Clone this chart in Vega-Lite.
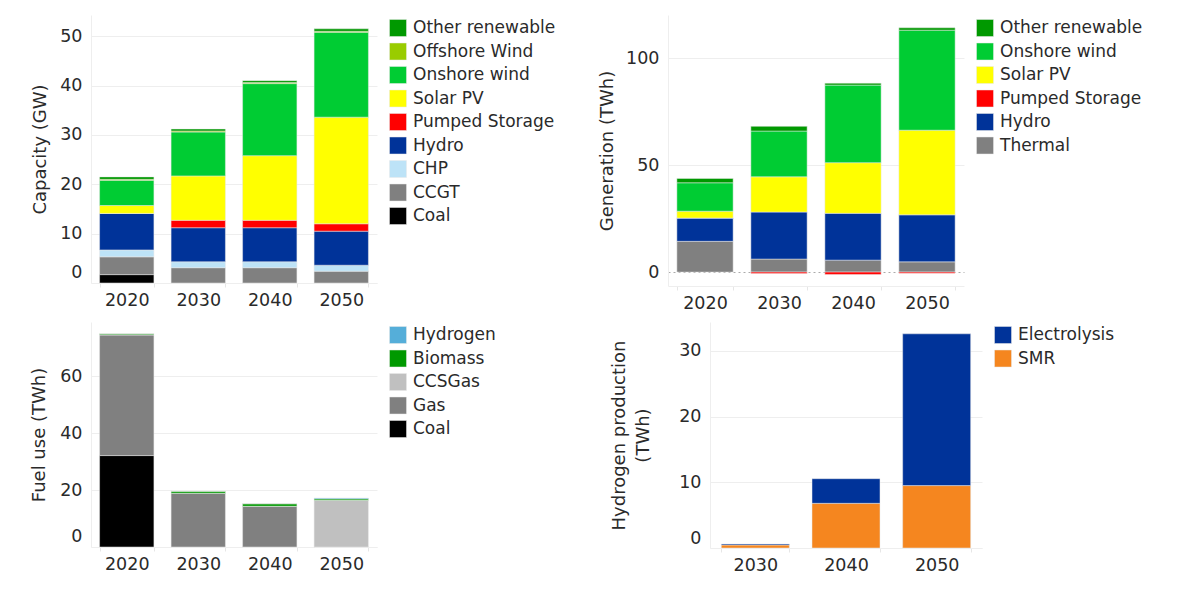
{
  "$schema": "https://vega.github.io/schema/vega-lite/v6.json",
  "padding": {"left": 30, "top": 15, "right": 0, "bottom": 0},
  "background": "white",
  "config": {
    "font": "DejaVu Sans",
    "view": {"stroke": null},
    "axis": {
      "labelFont": "DejaVu Sans", "labelFontSize": 17.5, "labelColor": "#2a2a2a",
      "titleFont": "DejaVu Sans", "titleFontSize": 18, "titleFontWeight": "normal", "titleColor": "#2a2a2a",
      "gridColor": "#eeeeee", "domainColor": "#eeeeee", "tickColor": "#e6e6e6"
    },
    "axisX": {"labelAngle": 0, "tickBand": "extent", "ticks": true, "tickSize": 4, "labelPadding": 4, "grid": false, "title": null},
    "axisY": {"ticks": false, "domain": true, "labelPadding": 9},
    "legend": {
      "title": null, "labelFont": "DejaVu Sans", "labelFontSize": 17, "labelColor": "#2a2a2a",
      "symbolType": "square", "symbolSize": 289, "symbolStrokeWidth": 0, "symbolOpacity": 1,
      "rowPadding": 3.5, "labelOffset": 6, "padding": 4, "offset": 8, "labelLimit": 300
    },
    "bar": {"stroke": "#e8e8e8", "strokeWidth": 0.5}
  },
  "datasets": {
    "capacity": [
      {"year": "2020", "tech": "Coal", "value": 1.7, "k": 0},
      {"year": "2020", "tech": "CCGT", "value": 3.6, "k": 1},
      {"year": "2020", "tech": "CHP", "value": 1.4, "k": 2},
      {"year": "2020", "tech": "Hydro", "value": 7.4, "k": 3},
      {"year": "2020", "tech": "Pumped Storage", "value": 0, "k": 4},
      {"year": "2020", "tech": "Solar PV", "value": 1.6, "k": 5},
      {"year": "2020", "tech": "Onshore wind", "value": 5.1, "k": 6},
      {"year": "2020", "tech": "Offshore Wind", "value": 0.2, "k": 7},
      {"year": "2020", "tech": "Other renewable", "value": 0.5, "k": 8},
      {"year": "2030", "tech": "Coal", "value": 0, "k": 0},
      {"year": "2030", "tech": "CCGT", "value": 3.1, "k": 1},
      {"year": "2030", "tech": "CHP", "value": 1.2, "k": 2},
      {"year": "2030", "tech": "Hydro", "value": 6.9, "k": 3},
      {"year": "2030", "tech": "Pumped Storage", "value": 1.5, "k": 4},
      {"year": "2030", "tech": "Solar PV", "value": 9.0, "k": 5},
      {"year": "2030", "tech": "Onshore wind", "value": 8.9, "k": 6},
      {"year": "2030", "tech": "Offshore Wind", "value": 0.2, "k": 7},
      {"year": "2030", "tech": "Other renewable", "value": 0.4, "k": 8},
      {"year": "2040", "tech": "Coal", "value": 0, "k": 0},
      {"year": "2040", "tech": "CCGT", "value": 3.1, "k": 1},
      {"year": "2040", "tech": "CHP", "value": 1.2, "k": 2},
      {"year": "2040", "tech": "Hydro", "value": 6.9, "k": 3},
      {"year": "2040", "tech": "Pumped Storage", "value": 1.5, "k": 4},
      {"year": "2040", "tech": "Solar PV", "value": 13.1, "k": 5},
      {"year": "2040", "tech": "Onshore wind", "value": 14.6, "k": 6},
      {"year": "2040", "tech": "Offshore Wind", "value": 0.2, "k": 7},
      {"year": "2040", "tech": "Other renewable", "value": 0.4, "k": 8},
      {"year": "2050", "tech": "Coal", "value": 0, "k": 0},
      {"year": "2050", "tech": "CCGT", "value": 2.4, "k": 1},
      {"year": "2050", "tech": "CHP", "value": 1.2, "k": 2},
      {"year": "2050", "tech": "Hydro", "value": 6.9, "k": 3},
      {"year": "2050", "tech": "Pumped Storage", "value": 1.5, "k": 4},
      {"year": "2050", "tech": "Solar PV", "value": 21.6, "k": 5},
      {"year": "2050", "tech": "Onshore wind", "value": 17.2, "k": 6},
      {"year": "2050", "tech": "Offshore Wind", "value": 0.2, "k": 7},
      {"year": "2050", "tech": "Other renewable", "value": 0.5, "k": 8}
    ],
    "generation": [
      {"year": "2020", "source": "Thermal", "twh": 14.4, "k": 0},
      {"year": "2020", "source": "Hydro", "twh": 10.9, "k": 1},
      {"year": "2020", "source": "Pumped Storage", "twh": 0, "k": 2},
      {"year": "2020", "source": "Solar PV", "twh": 3.2, "k": 3},
      {"year": "2020", "source": "Onshore wind", "twh": 13.3, "k": 4},
      {"year": "2020", "source": "Other renewable", "twh": 2.0, "k": 5},
      {"year": "2030", "source": "Thermal", "twh": 6.1, "k": 0},
      {"year": "2030", "source": "Hydro", "twh": 22.0, "k": 1},
      {"year": "2030", "source": "Pumped Storage", "twh": -0.6, "k": 2},
      {"year": "2030", "source": "Solar PV", "twh": 16.5, "k": 3},
      {"year": "2030", "source": "Onshore wind", "twh": 21.4, "k": 4},
      {"year": "2030", "source": "Other renewable", "twh": 2.2, "k": 5},
      {"year": "2040", "source": "Thermal", "twh": 5.6, "k": 0},
      {"year": "2040", "source": "Hydro", "twh": 21.9, "k": 1},
      {"year": "2040", "source": "Pumped Storage", "twh": -1.1, "k": 2},
      {"year": "2040", "source": "Solar PV", "twh": 23.7, "k": 3},
      {"year": "2040", "source": "Onshore wind", "twh": 36.3, "k": 4},
      {"year": "2040", "source": "Other renewable", "twh": 0.9, "k": 5},
      {"year": "2050", "source": "Thermal", "twh": 4.8, "k": 0},
      {"year": "2050", "source": "Hydro", "twh": 22.0, "k": 1},
      {"year": "2050", "source": "Pumped Storage", "twh": -0.5, "k": 2},
      {"year": "2050", "source": "Solar PV", "twh": 39.6, "k": 3},
      {"year": "2050", "source": "Onshore wind", "twh": 46.8, "k": 4},
      {"year": "2050", "source": "Other renewable", "twh": 1.1, "k": 5}
    ],
    "fuel": [
      {"year": "2020", "fuel": "Coal", "use": 32.1, "k": 0},
      {"year": "2020", "fuel": "Gas", "use": 42.4, "k": 1},
      {"year": "2020", "fuel": "CCSGas", "use": 0, "k": 2},
      {"year": "2020", "fuel": "Biomass", "use": 0.4, "k": 3},
      {"year": "2020", "fuel": "Hydrogen", "use": 0, "k": 4},
      {"year": "2030", "fuel": "Coal", "use": 0, "k": 0},
      {"year": "2030", "fuel": "Gas", "use": 18.9, "k": 1},
      {"year": "2030", "fuel": "CCSGas", "use": 0, "k": 2},
      {"year": "2030", "fuel": "Biomass", "use": 0.7, "k": 3},
      {"year": "2030", "fuel": "Hydrogen", "use": 0, "k": 4},
      {"year": "2040", "fuel": "Coal", "use": 0, "k": 0},
      {"year": "2040", "fuel": "Gas", "use": 14.3, "k": 1},
      {"year": "2040", "fuel": "CCSGas", "use": 0, "k": 2},
      {"year": "2040", "fuel": "Biomass", "use": 0.9, "k": 3},
      {"year": "2040", "fuel": "Hydrogen", "use": 0, "k": 4},
      {"year": "2050", "fuel": "Coal", "use": 0, "k": 0},
      {"year": "2050", "fuel": "Gas", "use": 0, "k": 1},
      {"year": "2050", "fuel": "CCSGas", "use": 16.4, "k": 2},
      {"year": "2050", "fuel": "Biomass", "use": 0.5, "k": 3},
      {"year": "2050", "fuel": "Hydrogen", "use": 0.3, "k": 4}
    ],
    "hydrogen": [
      {"year": "2030", "route": "SMR", "prod": 0.46, "k": 0},
      {"year": "2030", "route": "Electrolysis", "prod": 0.15, "k": 1},
      {"year": "2040", "route": "SMR", "prod": 6.8, "k": 0},
      {"year": "2040", "route": "Electrolysis", "prod": 3.75, "k": 1},
      {"year": "2050", "route": "SMR", "prod": 9.5, "k": 0},
      {"year": "2050", "route": "Electrolysis", "prod": 23.1, "k": 1}
    ]
  },
  "resolve": {"scale": {"color": "independent"}, "legend": {"color": "independent"}},
  "spacing": 10,
  "vconcat": [
    {
      "spacing": 38,
      "resolve": {"scale": {"color": "independent", "x": "independent", "y": "independent"}, "legend": {"color": "independent"}},
      "hconcat": [
        {
          "width": 286, "height": 268,
          "data": {"name": "capacity"},
          "mark": {"type": "bar"},
          "encoding": {
            "x": {"field": "year", "type": "nominal", "scale": {"paddingInner": 0.24, "paddingOuter": 0.12}},
            "y": {"field": "value", "type": "quantitative", "stack": "zero",
                  "scale": {"domain": [0, 54.3], "nice": false, "zero": false},
                  "axis": {"title": "Capacity (GW)", "values": [0, 10, 20, 30, 40, 50], "titlePadding": 10,
                           "labelOffset": {"condition": {"test": "datum.value === 0", "value": -11}, "value": 0}}},
            "color": {"field": "tech", "type": "nominal",
                      "scale": {"domain": ["Other renewable", "Offshore Wind", "Onshore wind", "Solar PV", "Pumped Storage", "Hydro", "CHP", "CCGT", "Coal"],
                                "range": ["#009900", "#99cc00", "#00cc33", "#ffff00", "#ff0000", "#003399", "#bde3f7", "#808080", "#000000"]}},
            "order": {"field": "k", "type": "quantitative"}
          }
        },
        {
          "width": 296, "height": 271,
          "data": {"name": "generation"},
          "mark": {"type": "bar"},
          "encoding": {
            "x": {"field": "year", "type": "nominal", "scale": {"paddingInner": 0.24, "paddingOuter": 0.12}},
            "y": {"field": "twh", "type": "quantitative", "stack": "zero",
                  "scale": {"domain": [-6.5, 120.3], "nice": false, "zero": false},
                  "axis": {"title": "Generation (TWh)", "values": [0, 50, 100], "titlePadding": 9,
                           "gridDash": {"condition": {"test": "datum.value === 0", "value": [2, 3]}, "value": []},
                           "gridColor": {"condition": {"test": "datum.value === 0", "value": "#aaaaaa"}, "value": "#eeeeee"}}},
            "color": {"field": "source", "type": "nominal",
                      "scale": {"domain": ["Other renewable", "Onshore wind", "Solar PV", "Pumped Storage", "Hydro", "Thermal"],
                                "range": ["#009900", "#00cc33", "#ffff00", "#ff0000", "#003399", "#808080"]}},
            "order": {"field": "k", "type": "quantitative"}
          }
        }
      ]
    },
    {
      "spacing": 110,
      "resolve": {"scale": {"color": "independent", "x": "independent", "y": "independent"}, "legend": {"color": "independent"}},
      "hconcat": [
        {
          "width": 286, "height": 225,
          "data": {"name": "fuel"},
          "mark": {"type": "bar"},
          "encoding": {
            "x": {"field": "year", "type": "nominal", "scale": {"paddingInner": 0.24, "paddingOuter": 0.12}},
            "y": {"field": "use", "type": "quantitative", "stack": "zero",
                  "scale": {"domain": [0, 79], "nice": false, "zero": false},
                  "axis": {"title": "Fuel use (TWh)", "values": [0, 20, 40, 60], "titlePadding": 11,
                           "labelOffset": {"condition": {"test": "datum.value === 0", "value": -11}, "value": 0}}},
            "color": {"field": "fuel", "type": "nominal",
                      "scale": {"domain": ["Hydrogen", "Biomass", "CCSGas", "Gas", "Coal"],
                                "range": ["#55aed9", "#009900", "#c0c0c0", "#808080", "#000000"]}},
            "order": {"field": "k", "type": "quantitative"}
          }
        },
        {
          "width": 272, "height": 226,
          "data": {"name": "hydrogen"},
          "mark": {"type": "bar"},
          "encoding": {
            "x": {"field": "year", "type": "nominal", "scale": {"paddingInner": 0.25, "paddingOuter": 0.125}},
            "y": {"field": "prod", "type": "quantitative", "stack": "zero",
                  "scale": {"domain": [0, 34.4], "nice": false, "zero": false},
                  "axis": {"title": ["Hydrogen production", "(TWh)"], "titleLineHeight": 24, "values": [0, 10, 20, 30], "titlePadding": 26,
                           "labelOffset": {"condition": {"test": "datum.value === 0", "value": -10}, "value": 0}}},
            "color": {"field": "route", "type": "nominal",
                      "scale": {"domain": ["Electrolysis", "SMR"],
                                "range": ["#003399", "#f5861f"]}},
            "order": {"field": "k", "type": "quantitative"}
          }
        }
      ]
    }
  ]
}
